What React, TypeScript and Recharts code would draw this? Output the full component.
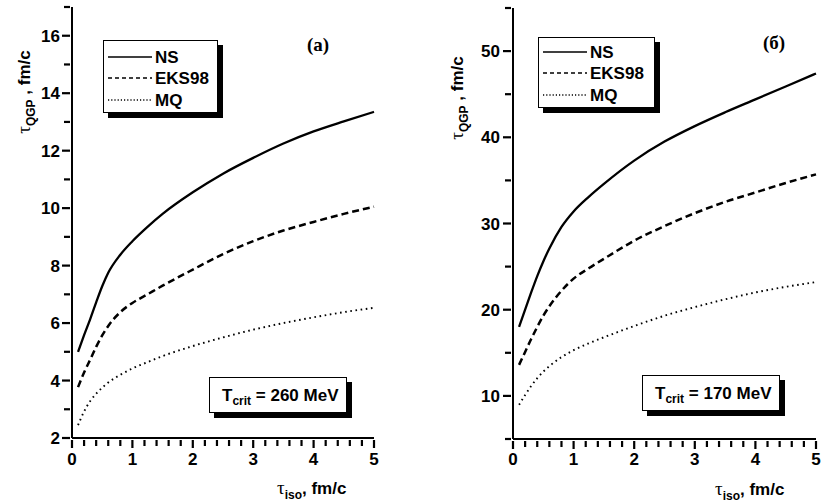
import React from 'react';
import { LineChart, Line, XAxis, YAxis, Legend } from 'recharts';

// tau_iso values (fm/c)
const xIso = [0.1, 0.2, 0.3, 0.4, 0.5, 0.6, 0.8, 1.0, 1.25, 1.5, 2.0, 2.5, 3.0, 3.5, 4.0, 4.5, 5.0];

// Panel (a): T_crit = 260 MeV
const nsA = [5.0, 5.58, 6.13, 6.72, 7.28, 7.75, 8.38, 8.85, 9.35, 9.8, 10.55, 11.2, 11.75, 12.25, 12.67, 13.02, 13.35];
const eksA = [3.77, 4.28, 4.72, 5.17, 5.57, 5.9, 6.38, 6.7, 7.0, 7.3, 7.86, 8.4, 8.85, 9.22, 9.52, 9.8, 10.05];
const mqA = [2.45, 2.92, 3.28, 3.54, 3.75, 3.93, 4.2, 4.42, 4.64, 4.85, 5.2, 5.5, 5.77, 6.0, 6.2, 6.38, 6.53];

// Panel (б): T_crit = 170 MeV
const nsB = [18.0, 20.0, 22.0, 23.9, 25.6, 27.1, 29.6, 31.4, 33.1, 34.6, 37.3, 39.5, 41.3, 42.9, 44.4, 45.9, 47.4];
const eksB = [13.6, 15.1, 16.6, 18.0, 19.3, 20.4, 22.2, 23.6, 24.8, 25.9, 28.0, 29.7, 31.2, 32.5, 33.6, 34.7, 35.7];
const mqB = [8.96, 10.1, 11.15, 12.05, 12.8, 13.45, 14.5, 15.3, 16.1, 16.8, 18.1, 19.3, 20.3, 21.2, 22.0, 22.65, 23.2];

const xTicks = [0, 0.2, 0.4, 0.6, 0.8, 1, 1.2, 1.4, 1.6, 1.8, 2, 2.2, 2.4, 2.6, 2.8, 3, 3.2, 3.4, 3.6, 3.8, 4, 4.2, 4.4, 4.6, 4.8, 5];
const xMajor = [0, 1, 2, 3, 4, 5];
const yTicksA = [2, 3, 4, 5, 6, 7, 8, 9, 10, 11, 12, 13, 14, 15, 16, 17];
const yMajorA = [2, 4, 6, 8, 10, 12, 14, 16];
const yTicksB = [5, 10, 15, 20, 25, 30, 35, 40, 45, 50, 55];
const yMajorB = [10, 20, 30, 40, 50];

const seriesNames = ['NS', 'EKS98', 'MQ'];

const SANS = '"Liberation Sans", Arial, sans-serif';
const SERIF = '"Liberation Serif", "Times New Roman", serif';

const build = (ns: number[], eks: number[], mq: number[]) =>
  xIso.map((x, i) => ({ x, ns: ns[i], eks: eks[i], mq: mq[i] }));

const dataA = build(nsA, eksA, mqA);
const dataB = build(nsB, eksB, mqB);

const isIn = (arr: number[], v: number) => arr.some((m) => Math.abs(m - v) < 1e-6);

// Every tick mark and label is drawn here; the tick position (x, y) lies on the axis line.
const makeXTick = (major: number[], labelDy: number) => (props: any) => {
  const { x, y, payload } = props;
  const isMajor = isIn(major, payload.value);
  const len = isMajor ? 8 : 6;
  return (
    <g>
      <rect x={x - 1.1} y={y} width={2.2} height={len} fill="#000" />
      {isMajor && (
        <text x={x} y={y + labelDy} textAnchor="middle" fontFamily={SANS} fontWeight="bold" fontSize={17} fill="#000">
          {payload.value}
        </text>
      )}
    </g>
  );
};

const makeYTick = (major: number[], gap: number) => (props: any) => {
  const { x, y, payload } = props;
  const isMajor = isIn(major, payload.value);
  const len = isMajor ? 8 : 6;
  return (
    <g>
      <rect x={x - len} y={y - 1.1} width={len} height={2.2} fill="#000" />
      {isMajor && (
        <text x={x - gap} y={y} dy="0.36em" textAnchor="end" fontFamily={SANS} fontWeight="bold" fontSize={17} fill="#000">
          {payload.value}
        </text>
      )}
    </g>
  );
};

const legendDash: Record<string, string | undefined> = {
  ns: undefined,
  eks: '4 3',
  mq: '1.2 2',
};

const makeLegend = (w: number, h: number, rows: number[]) => (props: any) => {
  const payload = [...(props.payload || [])].sort(
    (a: any, b: any) => seriesNames.indexOf(a.value) - seriesNames.indexOf(b.value)
  );
  return (
    <div style={{ position: 'relative', width: w + 5, height: h + 5 }}>
      <div style={{ position: 'absolute', left: 5, top: 5, width: w, height: h, background: '#000' }} />
      <div
        style={{
          position: 'absolute', left: 0, top: 0, width: w, height: h,
          border: '1.5px solid #000', boxSizing: 'border-box', background: '#fff',
        }}
      >
        <svg width={w} height={h} style={{ position: 'absolute', left: -1.5, top: -1.5 }}>
          {payload.map((p: any, i: number) => (
            <g key={p.value}>
              <line
                x1={5} x2={49} y1={rows[i]} y2={rows[i]}
                stroke="#000" strokeWidth={i === 0 ? 1.6 : 1.5}
                strokeDasharray={legendDash[p.dataKey]}
              />
              <text x={52} y={rows[i]} dy="0.36em" fontFamily={SANS} fontWeight="bold" fontSize={17} fill="#000">
                {p.value}
              </text>
            </g>
          ))}
        </svg>
      </div>
    </div>
  );
};

const renderLines = () => [
  <Line key="ns" dataKey="ns" name={seriesNames[0]} type="monotone" stroke="#000" strokeWidth={2.3} dot={false} isAnimationActive={false} legendType="line" />,
  <Line key="eks" dataKey="eks" name={seriesNames[1]} type="monotone" stroke="#000" strokeWidth={2.5} strokeDasharray="7 4" dot={false} isAnimationActive={false} legendType="line" />,
  <Line key="mq" dataKey="mq" name={seriesNames[2]} type="monotone" stroke="#000" strokeWidth={1.9} strokeDasharray="1.6 3.6" dot={false} isAnimationActive={false} legendType="line" />,
];

const TempBox = ({ left, top, value }: { left: number; top: number; value: string }) => (
  <div style={{ position: 'absolute', left, top, width: 144, height: 42 }}>
    <div style={{ position: 'absolute', left: 5, top: 5, width: 138, height: 36, background: '#000' }} />
    <div
      style={{
        position: 'absolute', left: 0, top: 0, width: 138, height: 36,
        border: '1.5px solid #000', boxSizing: 'border-box', background: '#fff',
      }}
    />
    <svg width={144} height={42} style={{ position: 'absolute', left: 0, top: 0 }}>
      <text x={13} y={24} fontFamily={SANS} fontWeight="bold" fontSize={17} fill="#000">
        T
        <tspan fontSize={12} dy={4}>crit</tspan>
        <tspan dy={-4}>{` = ${value} MeV`}</tspan>
      </text>
    </svg>
  </div>
);

const axisLineStyle = { stroke: '#000', strokeWidth: 2 };

export default function App() {
  return (
    <div style={{ position: 'absolute', left: 0, top: 0, width: 823, height: 504, background: '#fff' }}>
      {/* Panel (a) */}
      <div style={{ position: 'absolute', left: 0, top: 0 }}>
        <LineChart width={400} height={504} data={dataA} margin={{ top: 7, right: 26, bottom: 26, left: 0 }}>
          <XAxis
            dataKey="x" type="number" domain={[0, 5]} ticks={xTicks} interval={0}
            height={40} tickSize={0} tickLine={false}
            axisLine={axisLineStyle}
            tick={makeXTick(xMajor, 25)}
          />
          <YAxis
            type="number" domain={[2, 17]} ticks={yTicksA} interval={0}
            width={72} tickSize={0} tickLine={false}
            axisLine={axisLineStyle}
            tick={makeYTick(yMajorA, 10)}
          />
          <Legend
            layout="vertical" align="center" verticalAlign="middle"
            wrapperStyle={{ left: 103, top: 40, width: 125, height: 80 }}
            content={makeLegend(115, 73, [17, 38, 60])}
          />
          {renderLines()}
        </LineChart>
      </div>

      {/* Panel (б) */}
      <div style={{ position: 'absolute', left: 440, top: 0 }}>
        <LineChart width={383} height={504} data={dataB} margin={{ top: 8, right: 7, bottom: 25, left: 0 }}>
          <XAxis
            dataKey="x" type="number" domain={[0, 5]} ticks={xTicks} interval={0}
            height={40} tickSize={0} tickLine={false}
            axisLine={axisLineStyle}
            tick={makeXTick(xMajor, 24)}
          />
          <YAxis
            type="number" domain={[5, 55]} ticks={yTicksB} interval={0}
            width={73} tickSize={0} tickLine={false}
            axisLine={axisLineStyle}
            tick={makeYTick(yMajorB, 11)}
          />
          <Legend
            layout="vertical" align="center" verticalAlign="middle"
            wrapperStyle={{ left: 98, top: 37, width: 127, height: 78 }}
            content={makeLegend(117, 71, [15, 36, 58])}
          />
          {renderLines()}
        </LineChart>
      </div>

      {/* Annotations */}
      <svg width={823} height={504} style={{ position: 'absolute', left: 0, top: 0, pointerEvents: 'none' }}>
        <text transform="translate(30,92) rotate(-90)" textAnchor="middle" fill="#000">
          <tspan fontFamily={SERIF} fontSize={19}>τ</tspan>
          <tspan fontFamily={SANS} fontWeight="bold" fontSize={12} dy={5}>QGP</tspan>
          <tspan fontFamily={SANS} fontWeight="bold" fontSize={17} dy={-5}> , fm/c</tspan>
        </text>
        <text transform="translate(463,98) rotate(-90)" textAnchor="middle" fill="#000">
          <tspan fontFamily={SERIF} fontSize={19}>τ</tspan>
          <tspan fontFamily={SANS} fontWeight="bold" fontSize={12} dy={5}>QGP</tspan>
          <tspan fontFamily={SANS} fontWeight="bold" fontSize={17} dy={-5}> , fm/c</tspan>
        </text>
        <text x={277} y={494} fill="#000">
          <tspan fontFamily={SERIF} fontSize={19}>τ</tspan>
          <tspan fontFamily={SANS} fontWeight="bold" fontSize={12} dy={5}>iso</tspan>
          <tspan fontFamily={SANS} fontWeight="bold" fontSize={17} dy={-5}>, fm/c</tspan>
        </text>
        <text x={715} y={495} fill="#000">
          <tspan fontFamily={SERIF} fontSize={19}>τ</tspan>
          <tspan fontFamily={SANS} fontWeight="bold" fontSize={12} dy={5}>iso</tspan>
          <tspan fontFamily={SANS} fontWeight="bold" fontSize={17} dy={-5}>, fm/c</tspan>
        </text>
        <text x={307} y={51} fontFamily={SERIF} fontWeight="bold" fontSize={19} fill="#000">(a)</text>
        <text x={763} y={49} fontFamily={SERIF} fontWeight="bold" fontSize={19} fill="#000">(б)</text>
      </svg>
      <TempBox left={209} top={377} value="260" />
      <TempBox left={642} top={375} value="170" />
    </div>
  );
}
